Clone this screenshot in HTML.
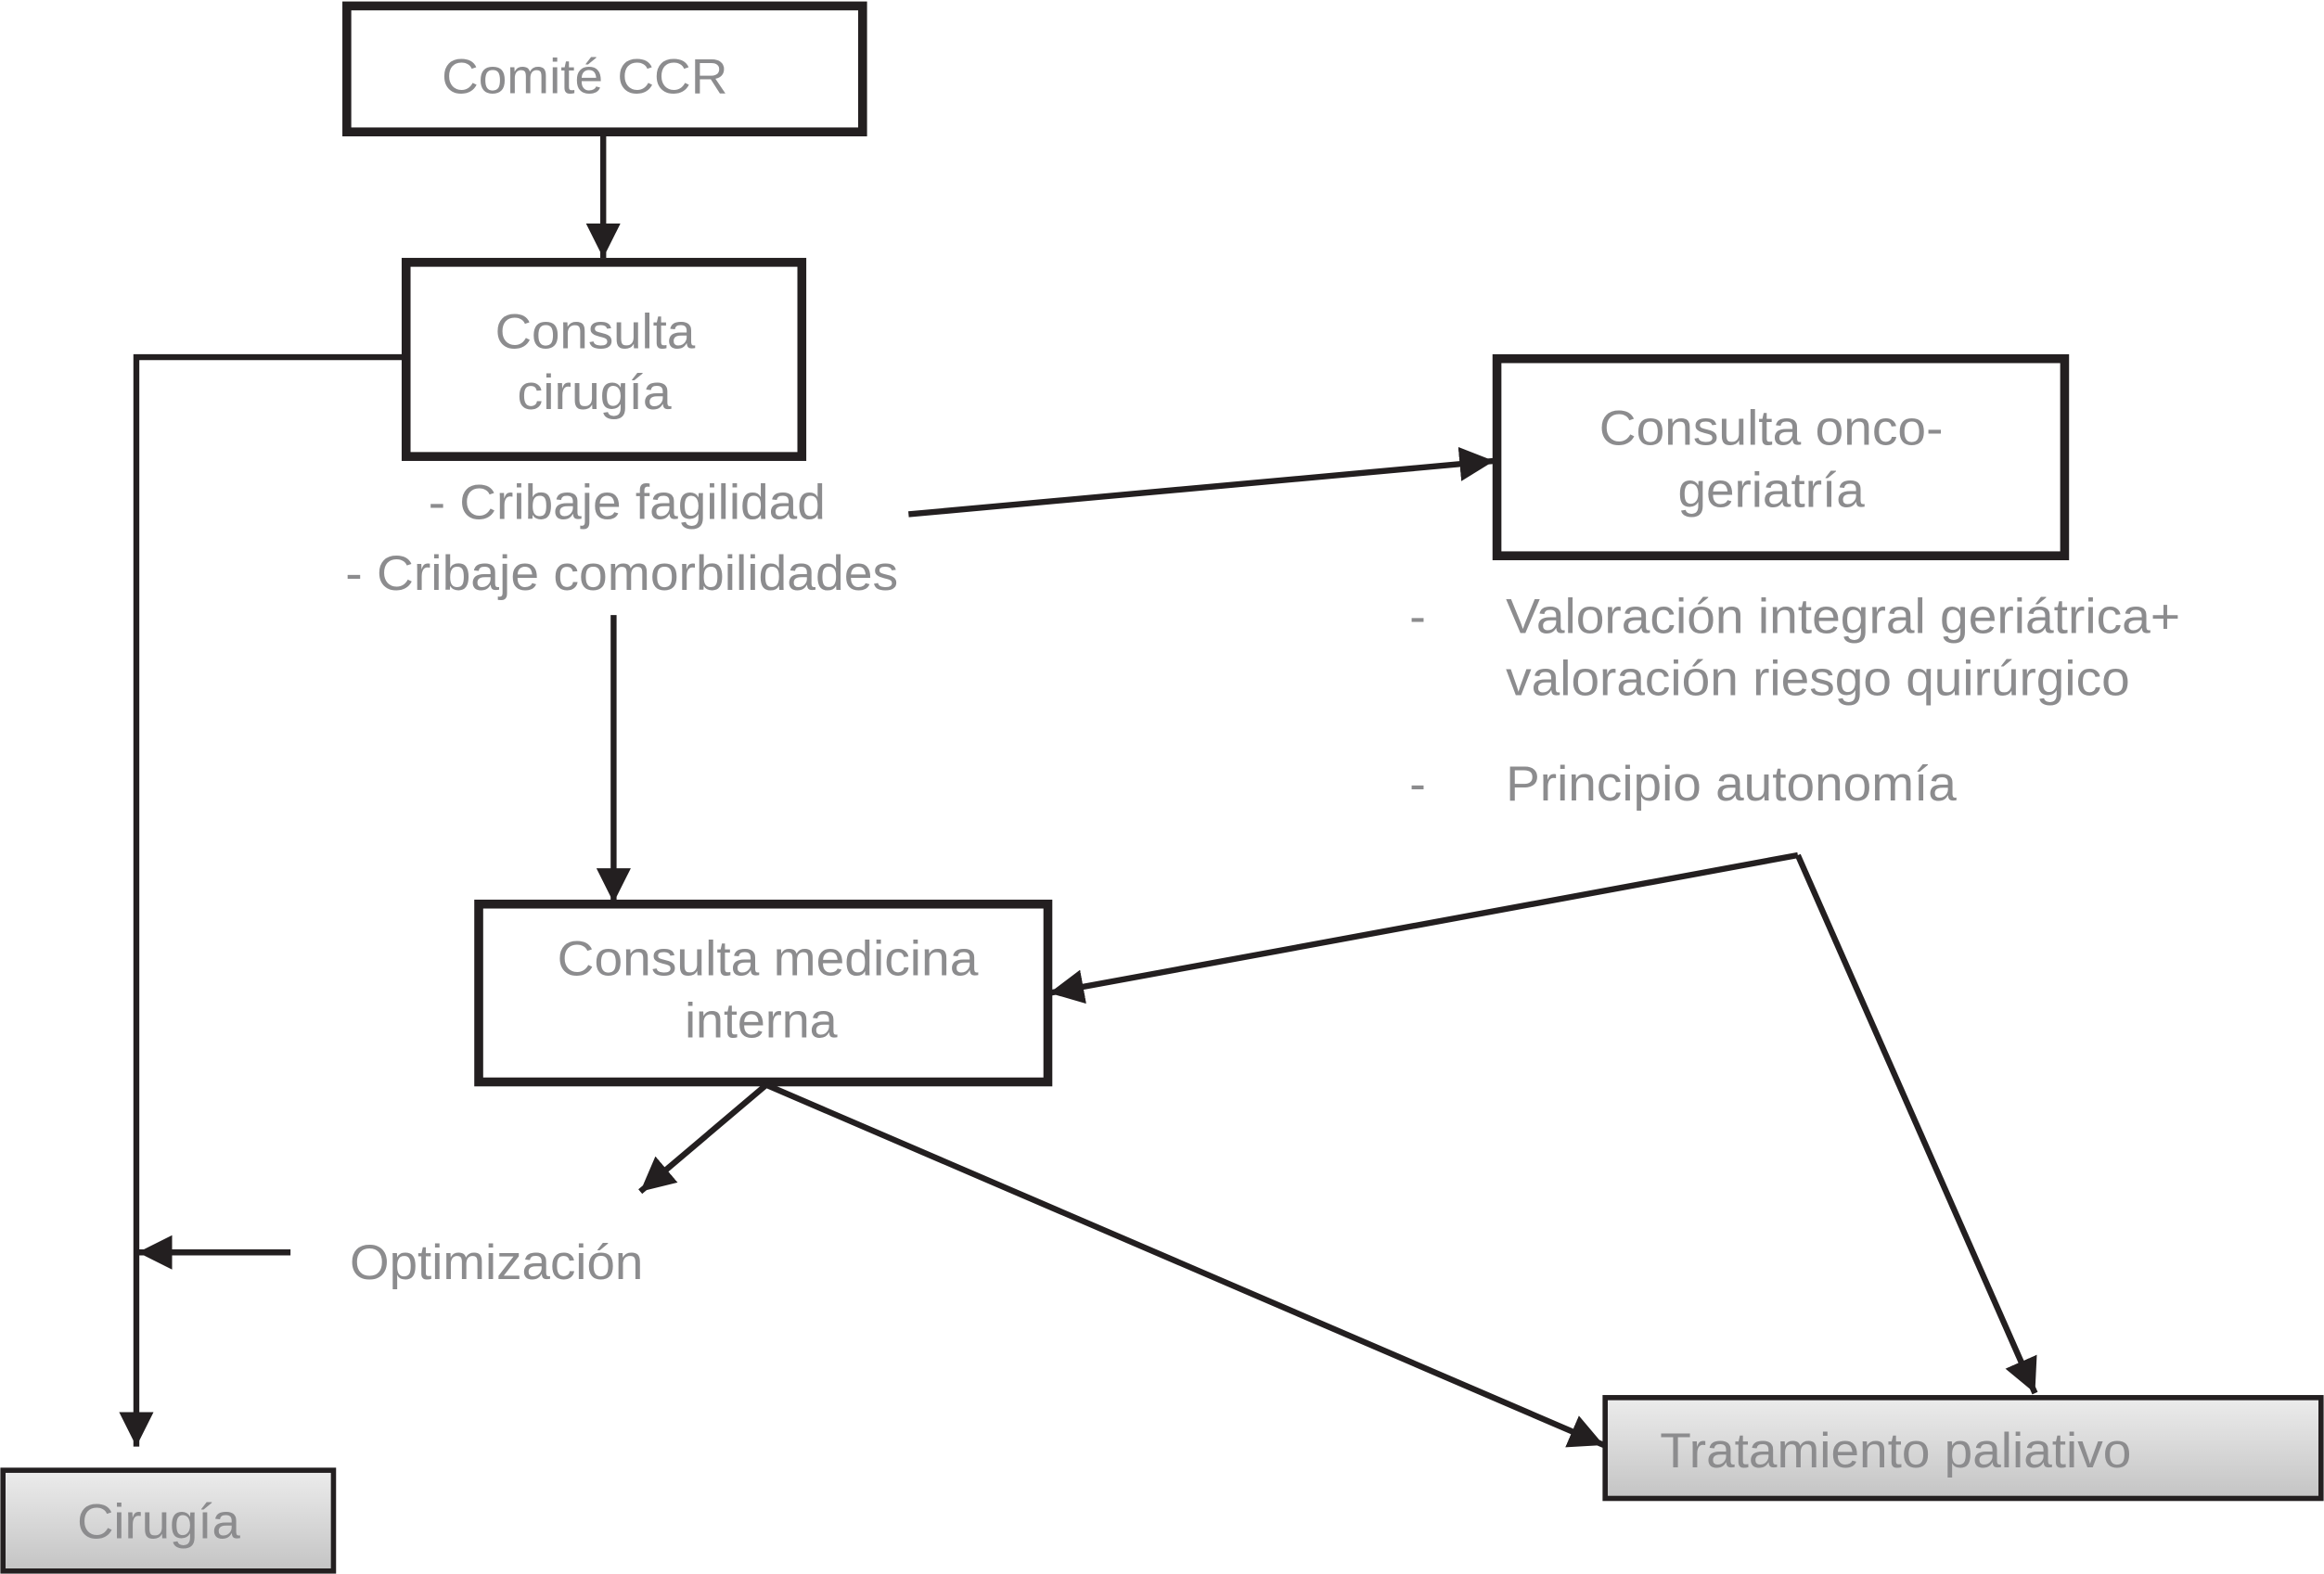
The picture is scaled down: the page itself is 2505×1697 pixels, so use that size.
<!DOCTYPE html>
<html><head><meta charset="utf-8"><style>html,body{margin:0;padding:0;background:#fff}svg{display:block}text{font-family:"Liberation Sans",sans-serif;fill:#8c8c8e;font-size:33px}</style></head>
<body>
<svg width="2505" height="1697" viewBox="0 0 1568 1062" preserveAspectRatio="none" xmlns="http://www.w3.org/2000/svg">
<defs>
<marker id="a" viewBox="0 0 10 10" refX="10" refY="5" markerWidth="5.8" markerHeight="5.8" markerUnits="strokeWidth" orient="auto"><path d="M0,0L10,5L0,10z" fill="#231f20"/></marker>
<linearGradient id="g" x1="0" y1="0" x2="0" y2="1"><stop offset="0" stop-color="#ececec"/><stop offset="1" stop-color="#c4c4c4"/></linearGradient>
</defs>
<g fill="none" stroke="#231f20" stroke-width="6">
<rect x="234" y="4" width="348" height="85"/>
<rect x="274" y="177" width="267" height="131"/>
<rect x="1010" y="242" width="383" height="133"/>
<rect x="323" y="610" width="384" height="120"/>
</g>
<rect x="2" y="992" width="223" height="68" fill="url(#g)" stroke="#231f20" stroke-width="3.5"/>
<rect x="1083" y="943" width="483" height="68" fill="url(#g)" stroke="#231f20" stroke-width="3.5"/>
<g fill="none" stroke="#231f20" stroke-width="4" marker-end="url(#a)">
<line x1="407" y1="89" x2="407" y2="174"/>
<polyline points="273,241 92,241 92,976"/>
<line x1="613" y1="347" x2="1008" y2="311"/>
<line x1="414" y1="415" x2="414" y2="609"/>
<line x1="1213" y1="577" x2="708" y2="670"/>
<line x1="1213" y1="577" x2="1373" y2="940"/>
<line x1="517" y1="732" x2="432" y2="804"/>
<line x1="517" y1="732" x2="1082" y2="975"/>
<line x1="196" y1="845" x2="93" y2="845"/>
</g>
<text x="298" y="63" textLength="193" lengthAdjust="spacingAndGlyphs">Comité CCR</text>
<text x="334" y="235" textLength="135" lengthAdjust="spacingAndGlyphs">Consulta</text>
<text x="349" y="276" textLength="104" lengthAdjust="spacingAndGlyphs">cirugía</text>
<text x="289" y="350" textLength="268" lengthAdjust="spacingAndGlyphs">- Cribaje fagilidad</text>
<text x="233" y="398" textLength="373" lengthAdjust="spacingAndGlyphs">- Cribaje comorbilidades</text>
<text x="1079" y="300" textLength="232" lengthAdjust="spacingAndGlyphs">Consulta onco-</text>
<text x="1132" y="342" textLength="126" lengthAdjust="spacingAndGlyphs">geriatría</text>
<text x="951" y="427">-</text>
<text x="1016" y="427" textLength="455" lengthAdjust="spacingAndGlyphs">Valoración integral geriátrica+</text>
<text x="1016" y="469" textLength="421" lengthAdjust="spacingAndGlyphs">valoración riesgo quirúrgico</text>
<text x="951" y="540">-</text>
<text x="1016" y="540" textLength="304" lengthAdjust="spacingAndGlyphs">Principio autonomía</text>
<text x="376" y="658" textLength="284" lengthAdjust="spacingAndGlyphs">Consulta medicina</text>
<text x="462" y="700" textLength="103" lengthAdjust="spacingAndGlyphs">interna</text>
<text x="236" y="863" textLength="198" lengthAdjust="spacingAndGlyphs">Optimización</text>
<text x="52" y="1038" textLength="110" lengthAdjust="spacingAndGlyphs">Cirugía</text>
<text x="1120" y="990" textLength="318" lengthAdjust="spacingAndGlyphs">Tratamiento paliativo</text>
</svg>
</body></html>
